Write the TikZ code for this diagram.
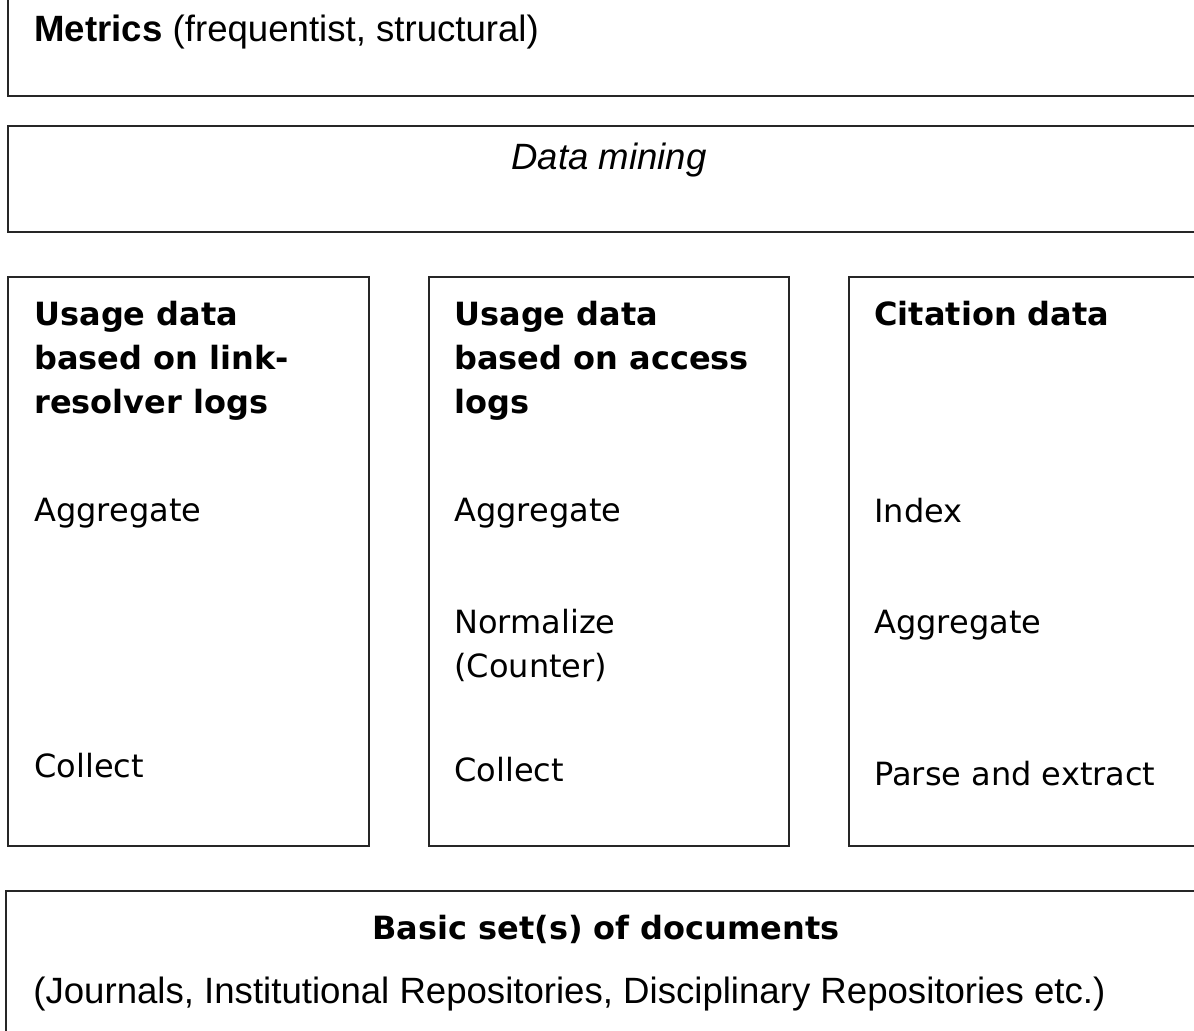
\documentclass[tikz,border=0pt]{standalone}
\usepackage{fontspec}
\setmainfont{Liberation Sans}
\newfontfamily\tahoma{DejaVu Sans}
\usetikzlibrary{positioning}

\begin{document}
\begin{tikzpicture}[x=0.5pt, y=-0.5pt,
    frame/.style={draw=black!85, line width=1pt, outer sep=0pt, inner sep=0pt, anchor=north west},
    lbl/.style={inner sep=0pt, anchor=base west, font=\tahoma\fontsize{16}{22}\selectfont},
    head/.style={inner sep=0pt, anchor=base west, align=left, font=\tahoma\bfseries\fontsize{16}{22}\selectfont},
    arial/.style={inner sep=0pt, font=\fontsize{18.3}{22}\selectfont}]
    \useasboundingbox (0,0) rectangle (1194,1031);
    \clip (0,0) rectangle (1194,1031);

    % Rahmen
    \node[frame, minimum width=621pt, minimum height=58pt] (metricsbox) at (8,-20) {};
    \node[frame, minimum width=621pt, minimum height=53pt] (miningbox) at (8,126) {};
    \node[frame, minimum width=180.5pt, minimum height=284.5pt] (linkbox) at (8,277) {};
    \node[frame, minimum width=180pt, minimum height=284.5pt] (accessbox) at (429,277) {};
    \node[frame, minimum width=200pt, minimum height=284.5pt] (citebox) at (849,277) {};
    \node[frame, minimum width=622pt, minimum height=100pt] (docsbox) at (6,891) {};

    % Obere Ebenen
    \node[arial, anchor=base west] (metrics) at (34,42) {\textbf{Metrics} (frequentist, structural)};
    \node[arial, anchor=base] (mining) at (609,170) {\itshape Data mining};

    % Spalte 1: Link-Resolver
    \node[head] (linkhead) at (34,414) {Usage data\\based on link-\\resolver logs};
    \node[lbl] (linkagg) at (34,522) {Aggregate};
    \node[lbl] (linkcol) at (34,777) {Collect};

    % Spalte 2: Access logs
    \node[head] (accesshead) at (454,414) {Usage data\\based on access\\logs};
    \node[lbl] (accessagg) at (454,522) {Aggregate};
    \node[lbl, align=left] (accessnorm) at (454,677) {Normalize\\(Counter)};
    \node[lbl] (accesscol) at (454,781) {Collect};

    % Spalte 3: Zitationen
    \node[head] (citehead) at (874,326) {Citation data};
    \node[lbl] (citeidx) at (874,523) {Index};
    \node[lbl] (citeagg) at (874,633) {Aggregate};
    \node[lbl] (citeparse) at (874,785) {Parse and extract};

    % Dokumentbasis
    \node[head, anchor=base] (docs) at (606,939) {Basic set(s) of documents};
    \node[arial, anchor=base west] (docslist) at (33,1003) {(Journals, Institutional Repositories, Disciplinary Repositories etc.)};
\end{tikzpicture}
\end{document}
